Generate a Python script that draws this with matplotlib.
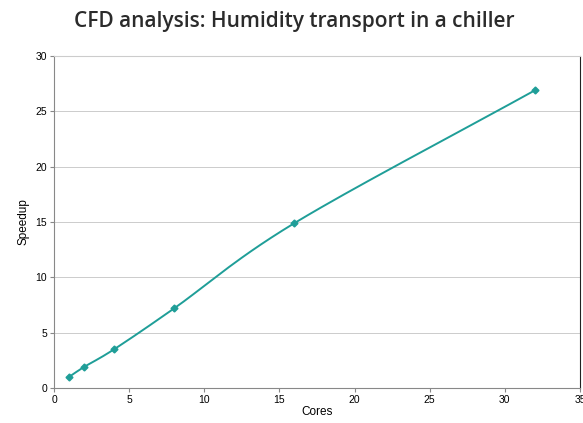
import numpy as np
import matplotlib.pyplot as plt

cores = [1, 2, 4, 8, 16, 32]
speedup = [1.0, 1.9, 3.5, 7.2, 14.9, 26.9]

teal = "#1f9e98"


def smooth(x, y, n=30):
    # Catmull-Rom curve through the points, like a spreadsheet "smoothed line"
    x = np.asarray(x, float)
    y = np.asarray(y, float)
    px = np.concatenate([[2 * x[0] - x[1]], x, [2 * x[-1] - x[-2]]])
    py = np.concatenate([[2 * y[0] - y[1]], y, [2 * y[-1] - y[-2]]])
    t = np.linspace(0, 1, n)
    xs, ys = [], []
    for i in range(1, len(px) - 2):
        for p, out in ((px, xs), (py, ys)):
            p0, p1, p2, p3 = p[i - 1], p[i], p[i + 1], p[i + 2]
            out.append(0.5 * (2 * p1 + (-p0 + p2) * t
                              + (2 * p0 - 5 * p1 + 4 * p2 - p3) * t ** 2
                              + (-p0 + 3 * p1 - 3 * p2 + p3) * t ** 3))
    return np.concatenate(xs), np.concatenate(ys)


plt.rcParams['font.family'] = ['Liberation Sans', 'DejaVu Sans']

fig = plt.figure(figsize=(5.83, 4.23), dpi=100)
ax = fig.add_axes([54 / 583, 1 - 388 / 423, 526 / 583, 332 / 423])

sx, sy = smooth(cores, speedup)
ax.plot(sx, sy, color=teal, lw=1.4)
ax.plot(cores, speedup, "D", color=teal, ms=3.5, zorder=3)

ax.set_xlim(0, 35)
ax.set_ylim(0, 30)
ax.set_xticks(range(0, 36, 5))
ax.set_yticks(range(0, 31, 5))
ax.yaxis.grid(True, color="#cccccc", lw=0.7)
ax.set_axisbelow(True)
ax.tick_params(labelsize=7.5, length=3, color="#888888", pad=2)

for side in ("left", "bottom"):
    ax.spines[side].set_color("#888888")
ax.spines["top"].set_color("#cccccc")
ax.spines["right"].set_color("#222222")

ax.set_xlabel("Cores", fontsize=8.5, labelpad=1)
ax.set_ylabel("Speedup", fontsize=8.5, labelpad=4)

fig.text(294 / 583, 1 - 21 / 423, "CFD analysis: Humidity transport in a chiller",
         ha="center", va="center", fontsize=15, fontweight="semibold",
         family="Open Sans", color="#2b2b2b")

fig.savefig("out.png", dpi=100)
